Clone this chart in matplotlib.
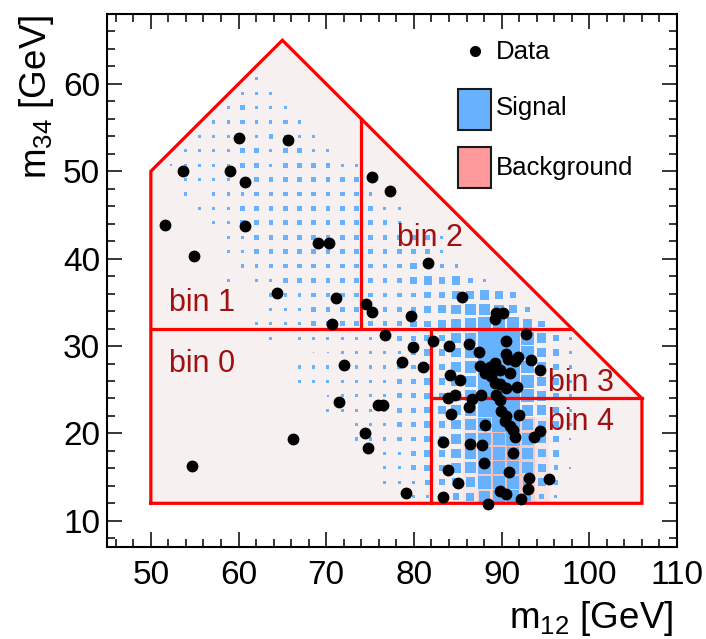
import matplotlib
matplotlib.use('Agg')
import matplotlib.pyplot as plt
import numpy as np
from matplotlib.patches import Rectangle, Polygon
from matplotlib.lines import Line2D
from matplotlib.collections import PatchCollection
import matplotlib.colors as mcolors

plt.rcParams['font.family'] = ['Liberation Sans', 'DejaVu Sans']
plt.rcParams['mathtext.default'] = 'regular'

# ---------------- data ----------------
# 2D histogram binning (box plot)
X_RANGE = (45.0, 110.0)
N_XBINS = 40
Y_RANGE = (7.0, 68.0)
N_YBINS = 37

# signal box sizes, row index -> (first column index, digits 0-9 per column)
SIGNAL_ROWS = {
    32: (10, "2"),
    31: (9, "222"),
    30: (8, "23222"),
    29: (7, "2232232"),
    28: (6, "222223222"),
    27: (5, "22223323322"),
    26: (4, "12222332333322"),
    25: (5, "2222233333333"),
    24: (5, "20222333333332"),
    23: (6, "222333333333322"),
    22: (7, "22333333333332"),
    21: (8, "2233333333333332"),
    20: (8, "2233333333333332"),
    19: (9, "2233333333334332"),
    18: (8, "2022333333333454532"),
    17: (11, "222333333334455654"),
    16: (11, "2223333333345677653"),
    15: (10, "222233333334456788864"),
    14: (11, "2022222223344679998642"),
    13: (14, "1122222344679998642"),
    12: (13, "22222223344679998642"),
    11: (13, "22222223344679998642"),
    10: (15, "122223344679998642"),
    9: (15, "222223345679997642"),
    8: (17, "2223344678997542"),
    7: (17, "2223344678897541"),
    6: (19, "2234467888754"),
    5: (19, "22344678887531"),
    4: (19, "2223456888653"),
    3: (21, "22345788532"),
}

# background intensity above the faint baseline, row index -> (first column, digits)
BKG_ROWS = {
    3: (25, "134431"),
    4: (25, "145541"),
    5: (25, "145541"),
    6: (25, "145541"),
    7: (25, "145541"),
    8: (25, "134431"),
    9: (26, "222"),
}

DATA_X = [60.0, 65.65, 53.65, 58.98, 60.74, 51.63, 60.74, 54.95, 69.1, 70.27,
          64.35, 71.17, 75.2, 77.22, 81.65, 85.52, 74.5, 75.22, 79.68, 89.4,
          90.16, 89.21, 70.64, 72.08, 71.5, 66.18, 54.68, 78.65, 75.85, 76.5,
          74.4, 74.72, 79.1, 76.73, 82.17, 79.85, 84.05, 86.28, 87.46, 90.55,
          92.74, 81.07, 84.07, 85.25, 87.5, 88.64, 89.2, 89.78, 90.47, 90.73,
          91.5, 91.87, 93.4, 94.4, 88.07, 88.83, 90.93, 89.21, 89.78, 90.55,
          91.8, 83.88, 84.64, 86.6, 87.7, 89.4, 89.78, 84.27, 86.28, 88.12,
          89.98, 90.55, 90.35, 90.93, 91.3, 91.5, 91.97, 93.64, 94.35, 83.35,
          86.36, 87.75, 91.27, 87.94, 83.88, 90.83, 93.12, 95.35, 85.02, 93.06,
          89.87, 90.5, 83.3, 92.26, 88.49]
DATA_Y = [53.8, 53.6, 50.0, 50.0, 48.8, 43.9, 43.75, 40.3, 41.8, 41.8,
          36.03, 35.5, 49.4, 47.74, 39.55, 35.57, 34.85, 33.95, 33.45, 33.82,
          33.74, 33.05, 32.48, 27.78, 23.55, 19.38, 16.23, 28.12, 23.3, 23.3,
          20.02, 18.33, 13.15, 31.25, 30.62, 29.9, 29.95, 30.18, 29.3, 30.53,
          31.33, 27.6, 26.74, 26.1, 27.69, 27.63, 28.1, 27.3, 29.04, 28.47,
          28.27, 28.77, 28.37, 27.25, 26.86, 26.55, 26.86, 25.79, 25.6, 25.2,
          25.27, 24.07, 24.4, 23.9, 24.45, 24.45, 23.88, 22.25, 23.07, 20.97,
          22.53, 21.96, 21.39, 20.81, 20.44, 19.6, 22.16, 19.63, 20.24, 19.0,
          18.75, 18.72, 17.8, 16.58, 15.8, 15.62, 14.9, 14.74, 14.31, 13.62,
          13.46, 13.02, 12.73, 12.45, 11.95]

# selection region and bin boundaries
REGION_X = [50, 50, 65, 106, 106, 50]
REGION_Y = [12, 50, 65, 24, 12, 12]
DIVIDER_X = [(50, 98), (74, 74), (82, 82), (82, 106)]
DIVIDER_Y = [(32, 32), (32, 56), (12, 32), (24, 24)]

BIN_LABELS = ['bin 0', 'bin 1', 'bin 2', 'bin 3', 'bin 4']
BIN_LABEL_X = [52.1, 52.1, 78.1, 95.3, 95.3]
BIN_LABEL_Y = [27.0, 34.0, 41.4, 24.8, 20.4]

LEGEND_LABELS = ['Data', 'Signal', 'Background']

# ---------------- style ----------------
SIG_COLOR = '#66b2ff'
BKG_LEGEND_COLOR = '#ff9a9a'
BKG_BASE = '#f7f0f0'
BKG_PEAK = '#f5968a'
LINE_RED = '#ff0000'
LABEL_RED = '#a01010'

W, H = 706, 639
fig = plt.figure(figsize=(W / 100, H / 100), dpi=100)
ax = fig.add_axes([107 / W, 1 - 547 / H, 570 / W, 533 / H])
ax.set_xlim(45, 110)
ax.set_ylim(7, 68)

bw = (X_RANGE[1] - X_RANGE[0]) / N_XBINS
bh = (Y_RANGE[1] - Y_RANGE[0]) / N_YBINS

# faint background fill over the selected region
ax.add_patch(Polygon(np.column_stack([REGION_X, REGION_Y]), closed=True,
                     facecolor=BKG_BASE, edgecolor='none', zorder=1))

# background peak cells
cmap = mcolors.LinearSegmentedColormap.from_list('bkg', [BKG_BASE, BKG_PEAK])
for j, (k0, s) in BKG_ROWS.items():
    for i, ch in enumerate(s):
        d = int(ch)
        if d == 0:
            continue
        k = k0 + i
        x0 = X_RANGE[0] + k * bw
        y0 = Y_RANGE[0] + j * bh
        ax.add_patch(Rectangle((x0, y0), bw, bh, facecolor=cmap(d / 9),
                               edgecolor='none', zorder=1.5))

# signal boxes
boxes = []
for j, (k0, s) in SIGNAL_ROWS.items():
    for i, ch in enumerate(s):
        d = int(ch)
        if d == 0:
            continue
        k = k0 + i
        cx = X_RANGE[0] + (k + 0.5) * bw
        cy = Y_RANGE[0] + (j + 0.5) * bh
        w = bw * d / 9.0
        h = bh * d / 9.0
        boxes.append(Rectangle((cx - w / 2, cy - h / 2), w, h))
ax.add_collection(PatchCollection(boxes, facecolor=SIG_COLOR, edgecolor='none',
                                  zorder=2))

# region outline and dividers
ax.plot(REGION_X, REGION_Y, color=LINE_RED, lw=2.3, zorder=3,
        solid_joinstyle='miter')
for xs, ys in zip(DIVIDER_X, DIVIDER_Y):
    ax.plot(xs, ys, color=LINE_RED, lw=2.3, zorder=3)

for lab, x, y in zip(BIN_LABELS, BIN_LABEL_X, BIN_LABEL_Y):
    ax.text(x, y, lab, color=LABEL_RED, fontsize=22, ha='left', va='baseline',
            zorder=4)

# data points
ax.plot(DATA_X, DATA_Y, 'o', color='black', markersize=7.5, zorder=5,
        linestyle='none')

# axes styling
ax.set_xticks(np.arange(50, 111, 10))
ax.set_xticks(np.arange(46, 111, 2), minor=True)
ax.set_yticks(np.arange(10, 61, 10))
ax.set_yticks(np.arange(8, 68.1, 2), minor=True)
ax.tick_params(which='both', direction='in', top=True, right=True, width=1.1)
ax.tick_params(which='major', length=11)
ax.tick_params(which='minor', length=5.5)
ax.tick_params(axis='both', which='major', labelsize=24)
ax.tick_params(axis='x', pad=9)
ax.tick_params(axis='y', pad=5)
for sp in ax.spines.values():
    sp.set_linewidth(1.5)

fig.text(673 / W, 1 - 628 / H, 'm$_{12}$ [GeV]', fontsize=26.5, ha='right',
         va='baseline')
fig.text(36 / W, 1 - 15 / H, 'm$_{34}$ [GeV]', fontsize=26.5, ha='center',
         va='top', rotation=90)

# legend (drawn in figure pixel coordinates)
leg_colors = [None, SIG_COLOR, BKG_LEGEND_COLOR]
leg_baselines = [59, 115, 175]
leg_centers = [51, 109.5, 168]
for lab, col, base, cen in zip(LEGEND_LABELS, leg_colors, leg_baselines, leg_centers):
    if col is None:
        fig.add_artist(Line2D([474.5 / W], [1 - cen / H], marker='o',
                              color='black', markersize=7, linestyle='none',
                              transform=fig.transFigure))
    else:
        fig.add_artist(Rectangle((458 / W, 1 - (cen + 20.5) / H), 33 / W, 41 / H,
                                 facecolor=col, edgecolor='#1a1a1a',
                                 linewidth=1.5, transform=fig.transFigure))
    fig.text(496 / W, 1 - base / H, lab, fontsize=18.5, ha='left',
             va='baseline')

fig.savefig('out.png', dpi=100)
